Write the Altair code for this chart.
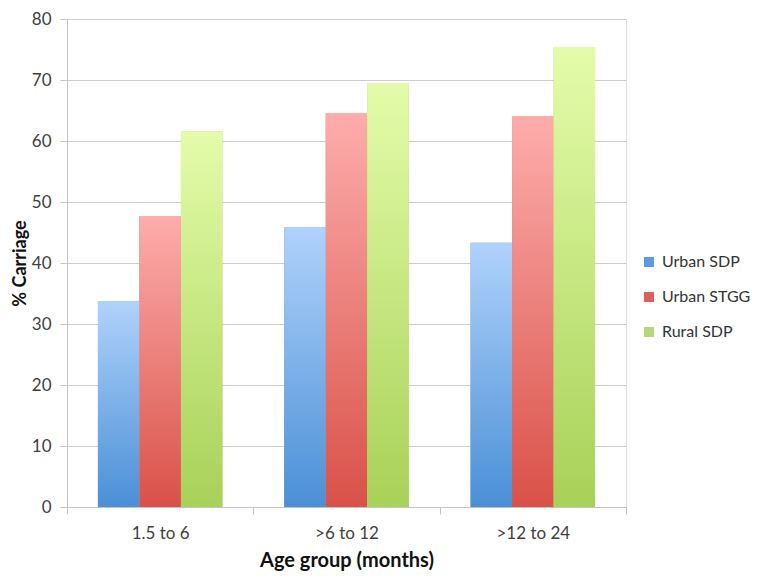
import altair as alt
import pandas as pd

groups = ["1.5 to 6", ">6 to 12", ">12 to 24"]
series = ["Urban SDP", "Urban STGG", "Rural SDP"]
urban_sdp = [33.7, 45.8, 43.3]
urban_stgg = [47.7, 64.6, 64.0]
rural_sdp = [61.6, 69.5, 75.4]

legend_colors = ["#5b9be0", "#e0605c", "#b5d97a"]
grad_top = ["#b0d2fb", "#fdadac", "#e4fcaa"]
grad_bottom = ["#4a8fd6", "#d95148", "#a8d158"]

rows = []
for s, vals in zip(series, [urban_sdp, urban_stgg, rural_sdp]):
    for g, v in zip(groups, vals):
        rows.append({"group": g, "series": s, "value": v})
df = pd.DataFrame(rows)

FONT = "Lato"

x_enc = alt.X(
    "group:N",
    sort=groups,
    title="Age group (months)",
    scale=alt.Scale(paddingInner=0, paddingOuter=0),
    axis=alt.Axis(
        labelAngle=0, tickBand="extent", tickSize=7, labelPadding=11,
        domainColor="#c4c4c4", tickColor="#c4c4c4", labelFontSize=17,
        labelColor="#404040", titleFontSize=20, titleFontWeight="bold",
        titleColor="#111111", titlePadding=9, labelFont=FONT, titleFont=FONT,
        grid=False,
    ),
)
xo_enc = alt.XOffset(
    "series:N", sort=series,
    scale=alt.Scale(paddingInner=0, paddingOuter=0.745),
)
y_enc = alt.Y(
    "value:Q",
    title="% Carriage",
    scale=alt.Scale(domain=[0, 80], nice=False),
    axis=alt.Axis(
        values=list(range(0, 81, 10)), tickSize=7, labelPadding=9,
        domainColor="#c4c4c4", tickColor="#c4c4c4", gridColor="#cccccc",
        gridWidth=1.2, labelFontSize=17, labelColor="#404040",
        titleFontSize=18, titleFontWeight="bold", titleColor="#111111",
        titlePadding=2, labelFont=FONT, titleFont=FONT,
    ),
)

base = alt.Chart(df).mark_bar().encode(
    x=x_enc, xOffset=xo_enc, y=y_enc,
    color=alt.Color(
        "series:N", sort=series,
        scale=alt.Scale(domain=series, range=legend_colors),
        legend=alt.Legend(
            title=None, orient="none", legendX=574, legendY=235,
            symbolType="square", symbolSize=100, symbolStrokeWidth=0,
            labelFontSize=16, labelColor="#333333", labelFont=FONT,
            rowPadding=19, labelOffset=5, labelLimit=200,
        ),
    ),
)

layers = [base]
for i, s in enumerate(series):
    grad = alt.Gradient(
        gradient="linear",
        stops=[
            alt.GradientStop(color=grad_top[i], offset=0),
            alt.GradientStop(color=grad_bottom[i], offset=1),
        ],
        x1=0, x2=0, y1=0, y2=1,
    )
    layers.append(
        alt.Chart(df).transform_filter(alt.datum.series == s)
        .mark_bar(fill=grad)
        .encode(x=x_enc, xOffset=xo_enc, y=y_enc)
    )

chart = alt.layer(*layers).properties(
    width=559, height=488,
    autosize=alt.AutoSizeParams(type="none"),
    padding={"left": 59, "top": 11, "right": 134, "bottom": 69},
).configure_view(stroke=None).configure(font=FONT)

chart.save("out.html", embed_options={"renderer": "svg", "actions": False})
